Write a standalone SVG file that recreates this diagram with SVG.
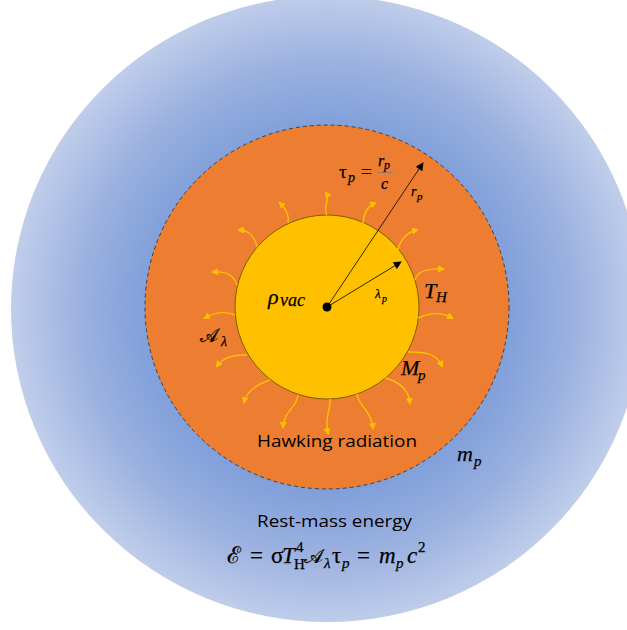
<svg xmlns="http://www.w3.org/2000/svg" width="627" height="630" viewBox="0 0 627 630">
<defs>
<radialGradient id="blueGrad" gradientUnits="userSpaceOnUse" cx="327" cy="309" r="316">
<stop offset="0" stop-color="#6f92d4"/>
<stop offset="0.56" stop-color="#7f9ed9"/>
<stop offset="0.78" stop-color="#9bb1e0"/>
<stop offset="1" stop-color="#c0ceea"/>
</radialGradient>
<marker id="yArrow" viewBox="0 0 10 10" refX="7" refY="5" markerUnits="userSpaceOnUse" markerWidth="7" markerHeight="7" orient="auto">
<path d="M0,0 L10,5 L0,10 Z" fill="#ffc000"/>
</marker>
<marker id="kArrow" viewBox="0 0 10 10" refX="9" refY="5" markerUnits="userSpaceOnUse" markerWidth="10" markerHeight="8" orient="auto">
<path d="M0,0 L10,5 L0,10 Z" fill="#000"/>
</marker>
<style>
.ray{fill:none;stroke:#ffc000;stroke-width:1.4;marker-end:url(#yArrow)}
.ptr{fill:none;stroke:#000;stroke-width:0.8;marker-end:url(#kArrow)}
.m{font-family:"Liberation Serif","DejaVu Serif",serif;font-style:italic;fill:#000;stroke:#000;stroke-width:0.25}
.up{font-style:normal}
.s{font-family:"Open Sans","Liberation Sans",sans-serif;fill:#000}
</style>
</defs>

<g id="rest-mass-region">
<ellipse cx="327" cy="309" rx="316" ry="313" fill="url(#blueGrad)"/>
</g>

<g id="radiation-shell">
<circle cx="327" cy="307" r="182" fill="#ed7d31" stroke="#404040" stroke-width="1" stroke-dasharray="4 3"/>
</g>

<g id="vacuum-core">
<circle cx="327" cy="307" r="92" fill="#ffc000" stroke="#7f6000" stroke-width="1"/>
<circle cx="327" cy="307" r="4.5" fill="#000"/>
</g>

<g id="connectors">
<path class="ray" d="M327,215 C322,207 331,200 326,193"/>
<path class="ray" d="M288,223 C290,215 285,208 280,203"/>
<path class="ray" d="M257,247 C255,238 250,230 239,230"/>
<path class="ray" d="M237,285 C234,276 228,271 213,272"/>
<path class="ray" d="M235,315 C225,311 215,312 205,318"/>
<path class="ray" d="M247,355 C238,355 225,355 217,366"/>
<path class="ray" d="M270,380 C258,384 247,390 244,402"/>
<path class="ray" d="M298,395 C297,408 284,410 283,427"/>
<path class="ray" d="M330,399 C331,410 324,418 328,433"/>
<path class="ray" d="M357,394 C358,405 371,410 373,428"/>
<path class="ray" d="M385,378 C397,381 408,388 410,403"/>
<path class="ray" d="M408,352 C420,352 435,351 442,366"/>
<path class="ray" d="M418,318 C432,312 442,312 452,318"/>
<path class="ray" d="M415,280 C417,272 427,268 443,269"/>
<path class="ray" d="M398,250 C400,240 407,232 417,230"/>
<path class="ray" d="M363,223 C364,213 368,206 375,203"/>
<line class="ptr" x1="327" y1="307" x2="423" y2="163"/>
<line class="ptr" x1="327" y1="307" x2="401" y2="262"/>
</g>

<g id="labels">
<text class="m" font-size="22"><tspan x="268" y="304">ρ</tspan><tspan x="280" y="306" font-size="18">vac</tspan></text>
<text class="m" font-size="13"><tspan x="375" y="298">λ</tspan><tspan x="382" y="302" font-size="10">p</tspan></text>
<text class="m" font-size="14"><tspan x="411" y="196">r</tspan><tspan x="417" y="200" font-size="11">p</tspan></text>
<text class="m" font-size="19"><tspan x="339" y="178" class="up">τ</tspan><tspan x="348" y="182" font-size="14">p</tspan><tspan x="361" y="178" class="up">=</tspan></text>
<text class="m" font-size="16"><tspan x="378" y="166">r</tspan><tspan x="384" y="169" font-size="12">p</tspan><tspan x="381" y="189">c</tspan></text>
<line x1="377" y1="172.5" x2="393" y2="172.5" stroke="#7f7f7f" stroke-width="0.8"/>
<text class="m" font-size="22"><tspan x="424" y="298">T</tspan><tspan x="436" y="302" font-size="15">H</tspan></text>
<text class="m" font-size="22"><tspan x="401" y="375">M</tspan><tspan x="418" y="380" font-size="15">p</tspan></text>
<text class="m" font-size="22"><tspan x="457" y="461">m</tspan><tspan x="474" y="466" font-size="15">p</tspan></text>
<text class="m" font-size="19"><tspan x="200" y="342" class="up">𝒜</tspan><tspan x="221" y="346" font-size="14">λ</tspan></text>
<text class="s" font-size="17" x="257" y="447" textLength="160" lengthAdjust="spacingAndGlyphs">Hawking radiation</text>
<text class="s" font-size="17" x="257" y="527" textLength="155" lengthAdjust="spacingAndGlyphs">Rest-mass energy</text>
<text class="m" font-size="23">
<tspan x="227" y="563" class="up">ℰ</tspan><tspan x="250" y="563" class="up">=</tspan><tspan x="271" y="563" class="up">σ</tspan><tspan x="282" y="563">T</tspan><tspan x="296" y="552" font-size="15" class="up">4</tspan><tspan x="294" y="569" font-size="15" class="up">H</tspan><tspan x="304" y="563" class="up" font-size="20">𝒜</tspan><tspan x="324" y="568" font-size="15">λ</tspan><tspan x="332" y="563" class="up">τ</tspan><tspan x="342" y="568" font-size="15">p</tspan><tspan x="357" y="563" class="up">=</tspan><tspan x="379" y="563">m</tspan><tspan x="396" y="568" font-size="15">p</tspan><tspan x="407" y="563">c</tspan><tspan x="418" y="552" font-size="15" class="up">2</tspan>
</text>
</g>
</svg>
